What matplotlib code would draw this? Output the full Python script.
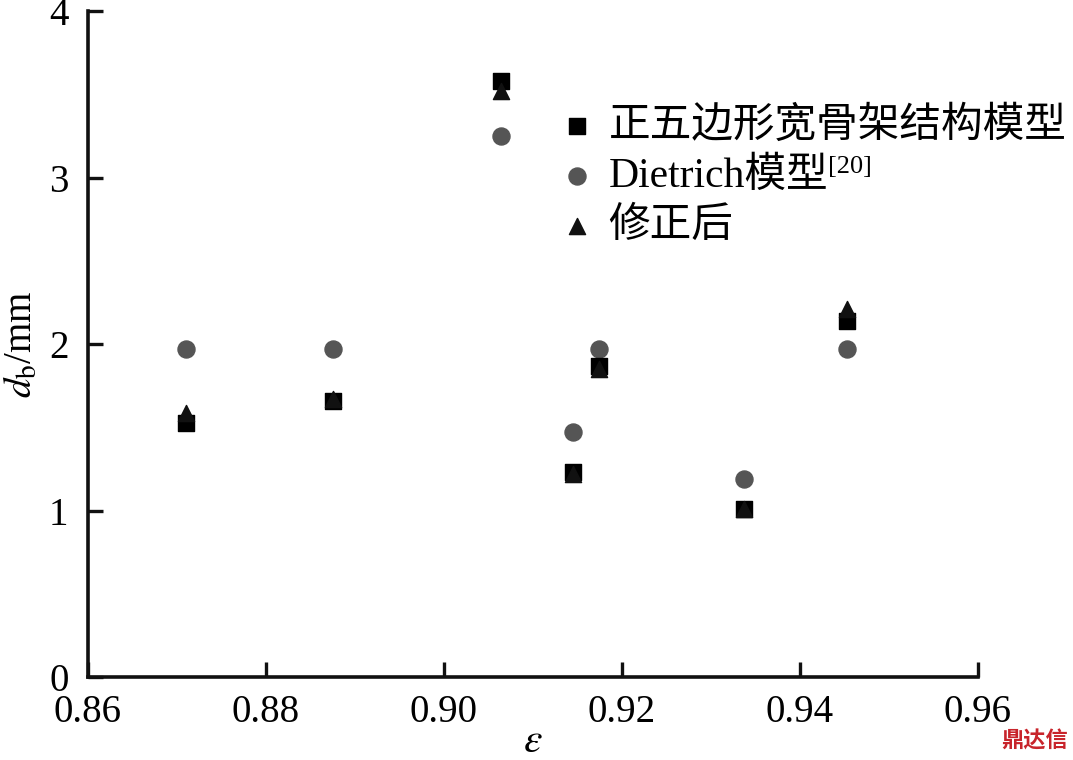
import matplotlib.pyplot as plt

plt.rcParams['font.family'] = ['Liberation Serif', 'Noto Sans CJK SC']
plt.rcParams['mathtext.fontset'] = 'stix'

# data
eps = [0.8710, 0.8875, 0.9064, 0.9145, 0.9174, 0.9338, 0.9453]
d_pentagon = [1.53, 1.66, 3.58, 1.23, 1.87, 1.01, 2.14]
d_dietrich = [1.97, 1.97, 3.25, 1.47, 1.97, 1.19, 1.97]
d_corrected = [1.59, 1.67, 3.52, 1.22, 1.85, 1.01, 2.21]

labels = ['正五边形宽骨架结构模型', 'Dietrich模型', '修正后']
x_ticks = [0.86, 0.88, 0.90, 0.92, 0.94, 0.96]
y_ticks = [0, 1, 2, 3, 4]

fig = plt.figure(figsize=(10.73, 7.6), dpi=100)
ax = fig.add_axes([0.082, 0.109, 0.829, 0.876])

ax.scatter(eps, d_dietrich, s=150, marker='o', color='#555555', zorder=3, label=labels[1])
ax.scatter(eps, d_pentagon, s=117, marker='s', color='#000000', zorder=4, label=labels[0])
ax.scatter(eps, d_corrected, s=135, marker='^', color='#111111', zorder=5, label=labels[2])

ax.set_xlim(0.86, 0.96)
ax.set_ylim(0, 4)
ax.set_xticks(x_ticks)
ax.set_xticklabels([f'{v:.2f}' for v in x_ticks])
ax.set_yticks(y_ticks)

for side in ['top', 'right']:
    ax.spines[side].set_visible(False)
for side in ['left', 'bottom']:
    ax.spines[side].set_linewidth(2.6)
    ax.spines[side].set_color('#111111')

ax.tick_params(direction='in', length=11, width=2.4, color='#111111',
               labelsize=28, pad=12)
ax.tick_params(axis='y', pad=14)

ax.set_xlabel(r'$\varepsilon$', fontsize=30, labelpad=-6)
ax.set_ylabel(r'$d_\mathrm{b}$/mm', fontsize=28, labelpad=6)

# legend in the order of the original figure
handles, hl = ax.get_legend_handles_labels()
order = [1, 0, 2]
leg = ax.legend([handles[i] for i in order], [hl[i] for i in order],
                loc='upper left', bbox_to_anchor=(0.508, 0.882), frameon=False,
                fontsize=30, handletextpad=0.25, handlelength=1.0,
                labelspacing=0.27, borderaxespad=0)

# superscript reference after the Dietrich entry
fig.canvas.draw()
renderer = fig.canvas.get_renderer()
bb = leg.get_texts()[1].get_window_extent(renderer)
fig.text(bb.x1 / fig.bbox.width, bb.y1 / fig.bbox.height + 0.002, '[20]',
         fontsize=19, ha='left', va='top')

# watermark
fig.text(0.995, 0.01, '鼎达信', color='#c8242b', fontsize=16, fontweight='bold',
         family=['Noto Sans CJK SC'], ha='right', va='bottom')

fig.savefig('out.png', dpi=100)
